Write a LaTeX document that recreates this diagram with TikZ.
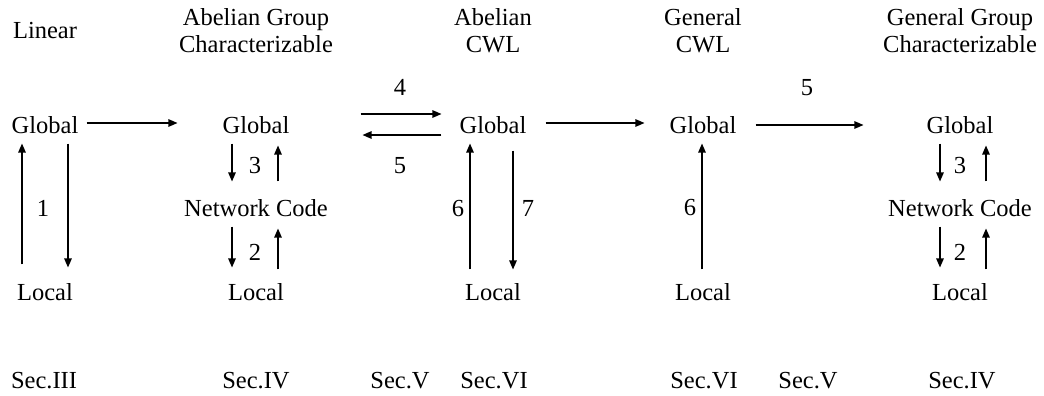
\documentclass[tikz,border=0pt]{standalone}
\usepackage{fontspec}
\setmainfont{Liberation Serif}
\usetikzlibrary{arrows.meta}

\tikzset{
  lbl/.style={font=\fontsize{24.5}{27}\selectfont, text height=16.7pt, text depth=0pt,
    inner xsep=8pt, inner ysep=10pt},
  head/.style={font=\fontsize{24.5}{27}\selectfont, align=center, inner sep=0pt},
  num/.style={lbl, inner sep=0pt},
  arr/.style={-{Triangle[length=9pt,width=7.5pt]}, line width=1.2pt},
}

\begin{document}
\begin{tikzpicture}[x=1pt,y=-1pt]
  \useasboundingbox (0,0) rectangle (1044,396);

  % Headers
  \node[lbl] (hlin) at (45,30) {Linear};
  \node[head] (habg) at (256,31) {Abelian Group\\Characterizable};
  \node[head] (hacw) at (493,31) {Abelian\\CWL};
  \node[head] (hgcw) at (703,31) {General\\CWL};
  \node[head] (hggc) at (960,31) {General Group\\Characterizable};

  % Levels
  \node[lbl] (g1) at (45,125) {Global};
  \node[lbl] (l1) at (45,292) {Local};
  \node[lbl] (g2) at (256,125) {Global};
  \node[lbl] (n2) at (256,208) {Network Code};
  \node[lbl] (l2) at (256,292) {Local};
  \node[lbl] (g3) at (493,125) {Global};
  \node[lbl] (l3) at (493,292) {Local};
  \node[lbl] (g4) at (703,125) {Global};
  \node[lbl] (l4) at (703,292) {Local};
  \node[lbl] (g5) at (960,125) {Global};
  \node[lbl] (n5) at (960,208) {Network Code};
  \node[lbl] (l5) at (960,292) {Local};

  % Linear
  \draw[arr, shorten <=9pt] ([xshift=-23pt]l1.north) -- ([xshift=-23pt]g1.south);
  \draw[arr, shorten >=6pt] ([xshift=23pt]g1.south) -- ([xshift=23pt]l1.north);
  \node[num] (e1) at (43,208) {1};

  % Abelian group characterizable
  \draw[arr, shorten >=8pt] ([xshift=-24pt]g2.south) -- ([xshift=-24pt]n2.north);
  \draw[arr, shorten <=8pt, shorten >=2pt] ([xshift=22pt]n2.north) -- ([xshift=22pt]g2.south);
  \draw[arr, shorten >=6pt] ([xshift=-24pt]n2.south) -- ([xshift=-24pt]l2.north);
  \draw[arr, shorten <=4pt, shorten >=2pt] ([xshift=22pt]l2.north) -- ([xshift=22pt]n2.south);
  \node[num] (e3a) at (255,165) {3};
  \node[num] (e2a) at (255,252) {2};

  % Abelian CWL
  \draw[arr, shorten <=4pt] ([xshift=-23pt]l3.north) -- ([xshift=-23pt]g3.south);
  \draw[arr, shorten <=7pt, shorten >=4pt] ([xshift=20pt]g3.south) -- ([xshift=20pt]l3.north);
  \node[num] (e6a) at (458,208) {6};
  \node[num] (e7) at (528,208) {7};

  % General CWL
  \draw[arr, shorten <=4pt] ([xshift=-1pt]l4.north) -- ([xshift=-1pt]g4.south);
  \node[num] (e6b) at (690,207) {6};

  % General group characterizable
  \draw[arr, shorten >=8pt] ([xshift=-20pt]g5.south) -- ([xshift=-20pt]n5.north);
  \draw[arr, shorten <=8pt, shorten >=2pt] ([xshift=26pt]n5.north) -- ([xshift=26pt]g5.south);
  \draw[arr, shorten >=6pt] ([xshift=-20pt]n5.south) -- ([xshift=-20pt]l5.north);
  \draw[arr, shorten <=4pt, shorten >=2pt] ([xshift=26pt]l5.north) -- ([xshift=26pt]n5.south);
  \node[num] (e3b) at (960,165) {3};
  \node[num] (e2b) at (960,252) {2};

  % Between the globals
  \draw[arr, shorten >=37pt] ([yshift=2pt]g1.east) -- ([yshift=2pt]g2.west);
  \draw[arr, shorten <=63pt, shorten >=10pt] ([yshift=11pt]g2.east) -- ([yshift=11pt]g3.west);
  \draw[arr, shorten <=10pt, shorten >=65pt] ([yshift=-10pt]g3.west) -- ([yshift=-10pt]g2.east);
  \draw[arr, shorten <=11pt, shorten >=17pt] ([yshift=2pt]g3.east) -- ([yshift=2pt]g4.west);
  \draw[arr, shorten <=11pt, shorten >=55pt] (g4.east) -- (g5.west);
  \node[num] (e4) at (400,87) {4};
  \node[num] (e5a) at (400,165) {5};
  \node[num] (e5b) at (807,87) {5};

  % Sections
  \foreach \x/\s [count=\i] in {44/III, 256/IV, 400/V, 494/VI, 704/VI, 808/V, 962/IV}
    \node[lbl] (sec\i) at (\x,380) {Sec.\s};
\end{tikzpicture}
\end{document}
